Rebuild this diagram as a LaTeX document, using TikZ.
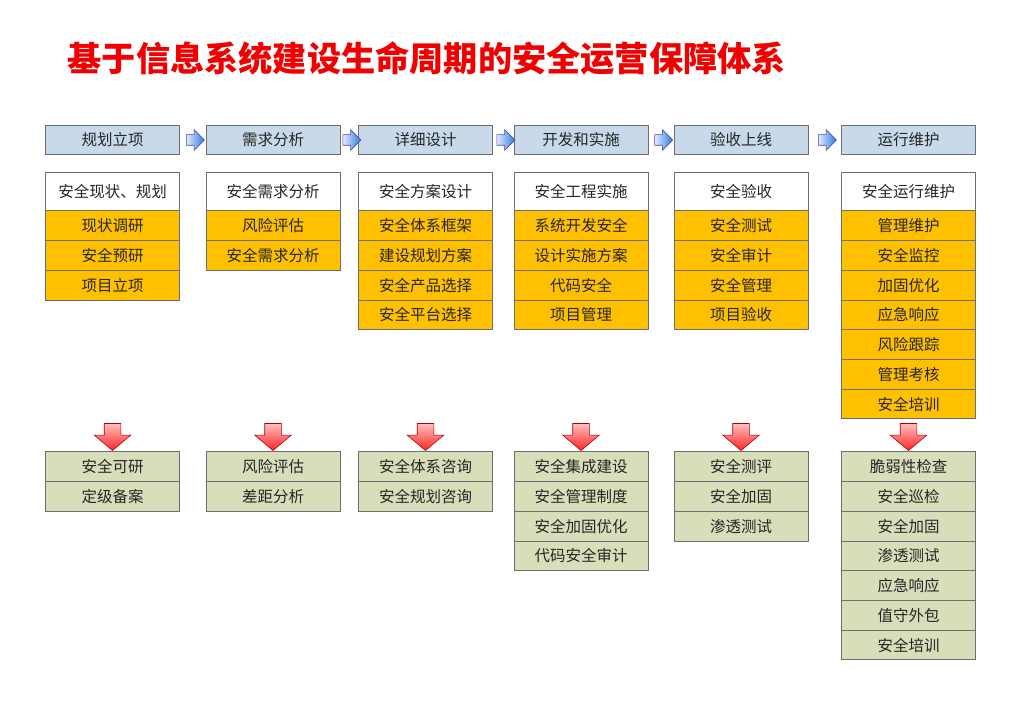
\documentclass[tikz,border=0pt]{standalone}
\usepackage{fontspec}
\setmainfont{Noto Sans CJK SC}
\usetikzlibrary{calc}
\usetikzlibrary{shapes.arrows}
\definecolor{hdrblue}{HTML}{C8DAE9}
\definecolor{itemyellow}{HTML}{FFC000}
\definecolor{resgreen}{HTML}{D7DEB9}
\definecolor{titlered}{HTML}{F00000}
\definecolor{linegray}{HTML}{6F6F6F}
\tikzset{
  box/.style={draw=linegray, line width=1pt, minimum width=134pt, inner sep=0pt,
    font=\fontsize{15.5}{16}\selectfont, text=black!85},
  hdr/.style={box, fill=hdrblue, minimum height=29.5pt},
  subbox/.style={box, fill=white, minimum height=38pt},
  itembox/.style={box, fill=itemyellow, minimum height=29.7pt},
  resbox/.style={box, fill=resgreen, minimum height=29.7pt},
  barrow/.style={single arrow, draw=blue!40!gray, line width=0.6pt, left color=blue!10,
    right color=blue!50!cyan!70!gray, minimum height=18pt, minimum width=20pt,
    single arrow head extend=5pt, inner sep=5pt},
  rarrow/.style={single arrow, shape border rotate=270, draw=red!70!black, line width=0.6pt,
    top color=red!25, bottom color=red!85, minimum height=27pt, minimum width=36pt,
    single arrow head extend=10pt, single arrow tip angle=100, inner sep=8pt}
}

\begin{document}
\begin{tikzpicture}[x=1pt, y=-1pt]
  \useasboundingbox (0,0) rectangle (1023,708);
  \node[anchor=west, inner sep=0pt, text=titlered, font=\fontsize{34.2}{34}\selectfont\bfseries]
    (title) at (67.5,58) {基于信息系统建设生命周期的安全运营保障体系};
  % phases
  \foreach \c/\x/\h/\s in {1/112.5/规划立项/安全现状、规划, 2/273/需求分析/安全需求分析,
      3/425.5/详细设计/安全方案设计, 4/581/开发和实施/安全工程实施,
      5/741/验收上线/安全验收, 6/908.5/运行维护/安全运行维护}
  {
    \node[hdr] (h\c) at (\x,140) {\h};
    \node[subbox] (s\c) at (\x,192) {\s};
    \node[rarrow] (d\c) at (\x,433.5) {};
  }
  \foreach \a/\b in {1/2,2/3,3/4,4/5,5/6}
    \node[barrow] (r\a) at ($(h\a.east)!0.5!(h\b.west)$) {};
  % yellow items
  \foreach \c/\x/\list in {1/112.5/{现状调研,安全预研,项目立项}, 2/273/{风险评估,安全需求分析},
      3/425.5/{安全体系框架,建设规划方案,安全产品选择,安全平台选择},
      4/581/{系统开发安全,设计实施方案,代码安全,项目管理},
      5/741/{安全测试,安全审计,安全管理,项目验收},
      6/908.5/{管理维护,安全监控,加固优化,应急响应,风险跟踪,管理考核,安全培训}}
    \foreach \t [count=\j] in \list
      \node[itembox] (y\c-\j) at (\x,{211+(\j-0.5)*29.7}) {\t};
  % services
  \foreach \c/\x/\list in {1/112.5/{安全可研,定级备案}, 2/273/{风险评估,差距分析},
      3/425.5/{安全体系咨询,安全规划咨询},
      4/581/{安全集成建设,安全管理制度,安全加固优化,代码安全审计},
      5/741/{安全测评,安全加固,渗透测试},
      6/908.5/{脆弱性检查,安全巡检,安全加固,渗透测试,应急响应,值守外包,安全培训}}
    \foreach \t [count=\j] in \list
      \node[resbox] (g\c-\j) at (\x,{452+(\j-0.5)*29.7}) {\t};
\end{tikzpicture}
\end{document}
